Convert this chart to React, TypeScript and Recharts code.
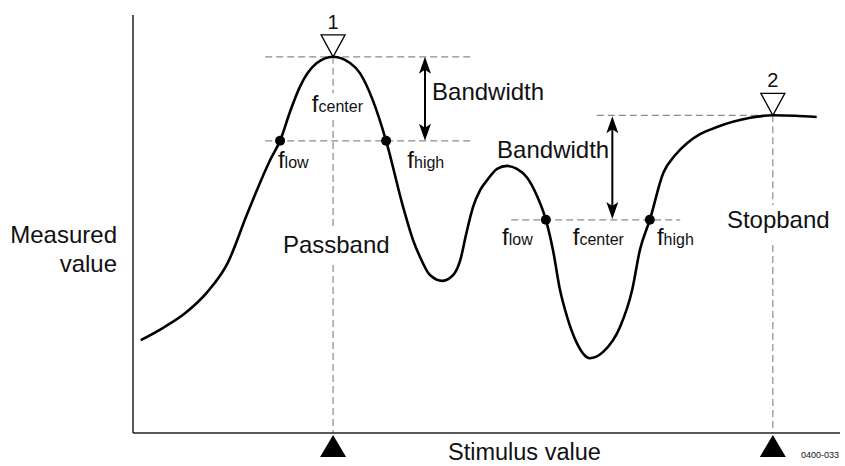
import React from 'react';
import { LineChart, Line, XAxis, YAxis, ReferenceLine, ReferenceDot } from 'recharts';

const FONT = '"Liberation Sans", Arial, Helvetica, sans-serif';
const GUIDE = '#8c8c8c';

// response curve (stimulus 0-100, measured 0-100)
const stimulus = [
  1.1, 4.2, 7.4, 10.5, 13.4, 16.1, 18.0, 19.4, 20.8, 22.2, 23.6, 26.0, 28.3, 30.7, 32.1, 33.9, 35.8,
  38.2, 39.6, 40.6, 42.0, 43.8, 45.3, 46.3, 47.1, 48.1, 49.1, 50.1, 51.5, 52.9, 54.3, 55.7, 57.1,
  58.4, 59.4, 60.4, 61.4, 62.7, 64.6, 66.5, 68.9, 70.6, 71.7, 73.1, 75.0, 76.7, 78.4, 80.2, 82.6,
  87.3, 90.5, 93.6, 96.7,
];
const measured = [
  22.2, 25.1, 28.7, 33.7, 40.7, 52.2, 60.0, 65.3, 69.9, 76.8, 82.8, 88.5, 90.0, 88.5, 86.1, 79.7, 69.9,
  54.1, 46.2, 42.1, 37.8, 36.4, 37.8, 41.4, 47.4, 54.1, 58.1, 60.5, 63.2, 63.9, 63.2, 61.2, 56.9,
  51.0, 43.8, 34.2, 27.8, 21.8, 17.9, 19.4, 25.4, 34.2, 43.8, 51.0, 62.2, 66.5, 69.4, 71.5, 73.2,
  75.4, 76.0, 75.9, 75.6,
];

// peak markers
const markerStimulus = [28.3, 90.5];
const markerLevel = [90.0, 76.0];
const markerNames = ['1', '2'];

// band edge points
const edgeStimulus = [20.8, 35.8, 58.4, 73.1];
const edgeLevel = [69.9, 69.9, 51.0, 51.0];

const data = stimulus.map((x, i) => ({ x, y: measured[i] }));

// dashed guides: [x1, y1, x2, y2]
const guides = [
  [18.7, 90.0, 47.9, 90.0],
  [18.7, 69.9, 47.9, 69.9],
  [65.6, 76.0, 90.5, 76.0],
  [53.5, 51.0, 77.4, 51.0],
  [28.3, 90.0, 28.3, 81.3],
  [28.3, 74.9, 28.3, 48.6],
  [28.3, 40.2, 28.3, 0],
  [90.5, 76.0, 90.5, 54.5],
  [90.5, 45.0, 90.5, 0],
];

// bandwidth arrows: [x, top, bottom]
const arrows = [
  [41.3, 90.0, 69.9],
  [67.8, 75.8, 51.2],
];

// text annotations: [x, baseline y, main, subscript]
const notes: [number, number, string, string][] = [
  [25.3, 76.8, 'f', 'center'],
  [20.5, 63.4, 'f', 'low'],
  [38.8, 63.4, 'f', 'high'],
  [42.3, 79.7, 'Bandwidth', ''],
  [51.5, 65.8, 'Bandwidth', ''],
  [52.2, 45.0, 'f', 'low'],
  [62.2, 45.0, 'f', 'center'],
  [74.1, 45.0, 'f', 'high'],
  [84.0, 49.0, 'Stopband', ''],
  [21.2, 43.1, 'Passband', ''],
];

const noteShape = (main: string, sub: string) => (p: any) => (
  <text x={p.cx} y={p.cy} fontFamily={FONT} fill="#111">
    <tspan fontSize={24}>{main}</tspan>
    {sub ? <tspan fontSize={16}>{sub}</tspan> : null}
  </text>
);

const markerShape = (name: string) => (p: any) => (
  <g>
    <polygon
      points={`${p.cx - 12},${p.cy - 22} ${p.cx + 12},${p.cy - 22} ${p.cx},${p.cy}`}
      fill="#fff"
      stroke="#000"
      strokeWidth={1.3}
    />
    <text x={p.cx} y={p.cy - 28} textAnchor="middle" fontSize={20} fontFamily={FONT} fill="#111">
      {name}
    </text>
  </g>
);

const baseTriangle = (p: any) => (
  <polygon points={`${p.cx},${p.cy + 2} ${p.cx - 13},${p.cy + 24} ${p.cx + 13},${p.cy + 24}`} fill="#000" />
);

const edgeDot = (p: any) => <circle cx={p.cx} cy={p.cy} r={5} fill="#000" />;

const doubleArrow = (p: any) => {
  const x = p.x1;
  const top = Math.min(p.y1, p.y2);
  const bot = Math.max(p.y1, p.y2);
  return (
    <g>
      <line x1={x} y1={top + 10} x2={x} y2={bot - 10} stroke="#000" strokeWidth={2} />
      <polygon points={`${x},${top} ${x - 6},${top + 17} ${x},${top + 13} ${x + 6},${top + 17}`} fill="#000" />
      <polygon points={`${x},${bot} ${x - 6},${bot - 17} ${x},${bot - 13} ${x + 6},${bot - 17}`} fill="#000" />
    </g>
  );
};

const yTitle = (props: any) => {
  const vb = props.viewBox || { x: 0, y: 15, width: 133, height: 418 };
  const xr = vb.x + vb.width - 16;
  return (
    <text textAnchor="end" fontFamily={FONT} fontSize={24} fill="#111">
      <tspan x={xr} y={vb.y + 228}>Measured</tspan>
      <tspan x={xr} y={vb.y + 257}>value</tspan>
    </text>
  );
};

const xTitle = (props: any) => {
  const vb = props.viewBox || { x: 133, y: 433, width: 707, height: 33 };
  return (
    <g fontFamily={FONT} fill="#111">
      <text x={vb.x + 315} y={vb.y + 27} fontSize={23.5}>Stimulus value</text>
      <text x={vb.x + 668} y={vb.y + 25} fontSize={9}>0400-033</text>
    </g>
  );
};

export default function App() {
  return (
    <div style={{ position: 'fixed', left: 0, top: 0, width: 845, height: 466, background: '#fff' }}>
      <LineChart width={845} height={466} data={data} margin={{ top: 15, right: 5, left: 0, bottom: 0 }}>
        <XAxis
          dataKey="x"
          type="number"
          domain={[0, 100]}
          height={33}
          tick={false}
          tickLine={false}
          axisLine={{ stroke: '#222', strokeWidth: 1.5 }}
          label={{ content: xTitle }}
        />
        <YAxis
          type="number"
          domain={[0, 100]}
          width={133}
          tick={false}
          tickLine={false}
          axisLine={{ stroke: '#222', strokeWidth: 1.5 }}
          label={{ content: yTitle }}
        />
        {guides.map((g, i) => (
          <ReferenceLine
            key={`g${i}`}
            segment={[{ x: g[0], y: g[1] }, { x: g[2], y: g[3] }]}
            stroke={GUIDE}
            strokeWidth={1.2}
            strokeDasharray="7 4"
          />
        ))}
        {arrows.map((a, i) => (
          <ReferenceLine
            key={`a${i}`}
            segment={[{ x: a[0], y: a[1] }, { x: a[0], y: a[2] }]}
            shape={doubleArrow}
          />
        ))}
        <Line
          dataKey="y"
          type="monotone"
          stroke="#000"
          strokeWidth={2.6}
          dot={false}
          activeDot={false}
          isAnimationActive={false}
        />
        {edgeStimulus.map((x, i) => (
          <ReferenceDot key={`e${i}`} x={x} y={edgeLevel[i]} r={5} shape={edgeDot} />
        ))}
        {markerStimulus.map((x, i) => (
          <ReferenceDot key={`m${i}`} x={x} y={markerLevel[i]} shape={markerShape(markerNames[i])} />
        ))}
        {markerStimulus.map((x, i) => (
          <ReferenceDot key={`b${i}`} x={x} y={0} shape={baseTriangle} ifOverflow="visible" />
        ))}
        {notes.map((n, i) => (
          <ReferenceDot key={`n${i}`} x={n[0]} y={n[1]} shape={noteShape(n[2], n[3])} />
        ))}
      </LineChart>
    </div>
  );
}
